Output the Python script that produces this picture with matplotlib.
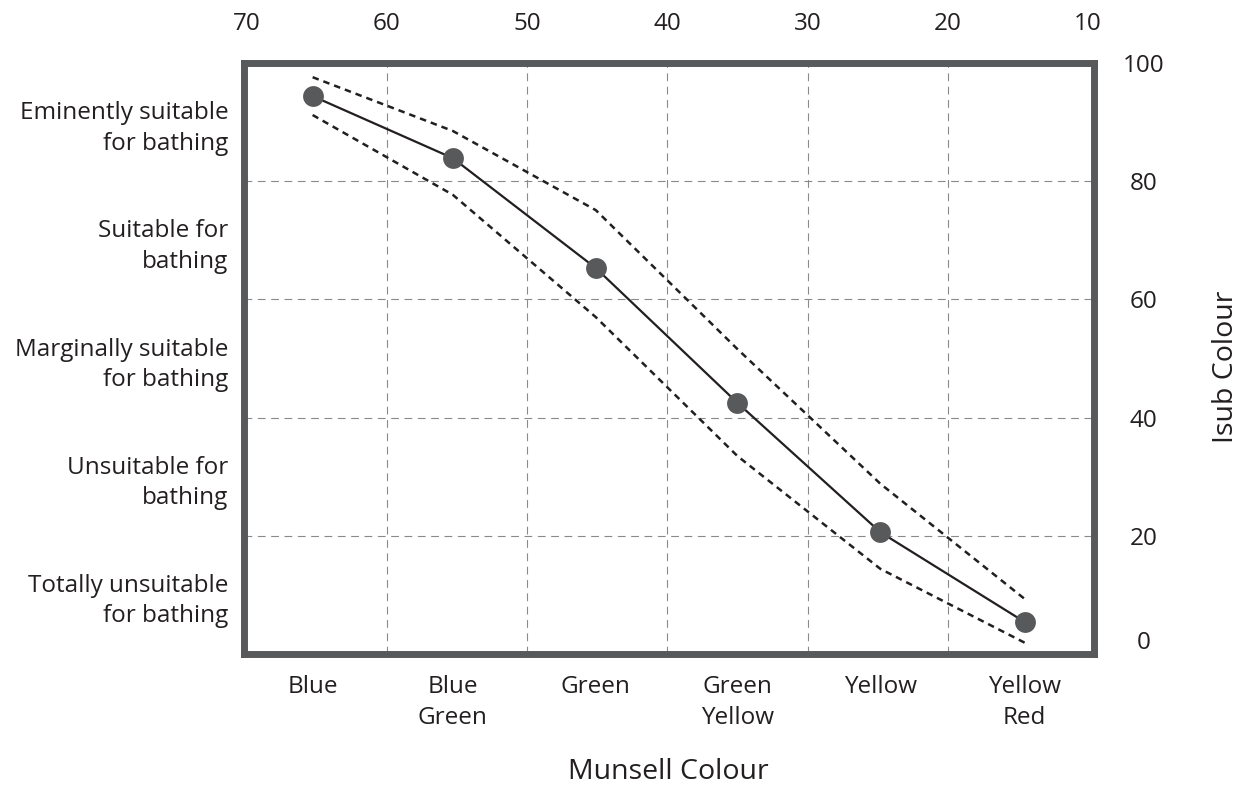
import matplotlib
matplotlib.use("Agg")
import matplotlib.pyplot as plt
from matplotlib.transforms import ScaledTranslation

plt.rcParams['font.family'] = ['Open Sans', 'DejaVu Sans']

# Munsell scale positions of each water colour and the Isub colour index
munsell = [65.3, 55.3, 45.1, 35.0, 24.8, 14.5]
isub = [94.4, 83.9, 65.3, 42.5, 20.6, 5.4]
isub_upper = [97.6, 88.5, 75.1, 51.6, 28.8, 9.3]
isub_lower = [91.2, 77.7, 57.0, 33.5, 14.4, 1.9]

colour_names = ["Blue", "Blue\nGreen", "Green", "Green\nYellow", "Yellow", "Yellow\nRed"]
colour_pos = [65.3, 55.3, 45.1, 35.0, 24.8, 14.5]

munsell_ticks = [70, 60, 50, 40, 30, 20, 10]
isub_ticks = [0, 20, 40, 60, 80, 100]

suitability = ["Eminently suitable\nfor bathing", "Suitable for\nbathing",
               "Marginally suitable\nfor bathing", "Unsuitable for\nbathing",
               "Totally unsuitable\nfor bathing"]
suitability_pos = [90, 70, 50, 30, 10]

v_grid = [60, 50, 40, 30, 20]
h_grid = [20, 40, 60, 80]

TEXT = "#231f20"
FRAME = "#58595b"
FS = 17.5
TITLE_FS = 20.5

fig = plt.figure(figsize=(12.47, 8.05), dpi=100)
ax = fig.add_axes([243.5 / 1247, 1 - 654 / 805, (1093.5 - 243.5) / 1247, (654 - 63) / 805])
ax.set_xlim(70.23, 9.6)
ax.set_ylim(0, 100)

for x in v_grid:
    ax.axvline(x, color="#8a8a8a", lw=0.8, dashes=(7, 5), zorder=1)
for y in h_grid:
    ax.axhline(y, color="#8a8a8a", lw=0.8, dashes=(7, 5), zorder=1)

ax.plot(munsell, isub_upper, color=TEXT, lw=1.8, dashes=(2.6, 2.0), zorder=2)
ax.plot(munsell, isub_lower, color=TEXT, lw=1.8, dashes=(2.6, 2.0), zorder=2)
ax.plot(munsell, isub, color=TEXT, lw=1.6, zorder=3)
ax.plot(munsell, isub, "o", color=FRAME, ms=15, mec="none", zorder=4)

for s in ax.spines.values():
    s.set_linewidth(5)
    s.set_color(FRAME)
    s.set_capstyle("projecting")

# Munsell numbers on top
ax.xaxis.tick_top()
ax.set_xticks(munsell_ticks)
ax.set_xticklabels([str(t) for t in munsell_ticks])
ax.tick_params(axis="x", length=0, pad=19.5, labelsize=FS, labelcolor=TEXT)

# Isub numbers on the right
ax.yaxis.tick_right()
ax.set_yticks(isub_ticks)
ax.set_yticklabels([str(t) for t in isub_ticks])
ax.tick_params(axis="y", length=0, pad=36, labelsize=FS, labelcolor=TEXT)
for lab in ax.get_yticklabels():
    lab.set_horizontalalignment("center")
zero = ax.get_yticklabels()[0]
zero.set_transform(zero.get_transform() + ScaledTranslation(0, 14 / 100, fig.dpi_scale_trans))
ax.yaxis.set_label_position("right")
ax.set_ylabel("Isub Colour", fontsize=TITLE_FS, color=TEXT, labelpad=34)
ax.yaxis.label.set_transform(ax.yaxis.label.get_transform()
                             + ScaledTranslation(0, -8 / 100, fig.dpi_scale_trans))

# Colour names below
bx = ax.secondary_xaxis("bottom")
bx.set_xticks(colour_pos, colour_names)
bx.tick_params(length=0, pad=15, labelsize=FS, labelcolor=TEXT)
for lab in bx.get_xticklabels():
    lab.set_linespacing(1.42)
bx.spines["bottom"].set_visible(False)
bx.set_xlabel("Munsell Colour", fontsize=TITLE_FS, color=TEXT, labelpad=20)

# Bathing suitability classes on the left
lx = ax.secondary_yaxis("left")
lx.set_yticks(suitability_pos, suitability)
lx.tick_params(length=0, pad=11, labelsize=FS, labelcolor=TEXT)
for lab in lx.get_yticklabels():
    lab.set_linespacing(1.36)
    lab.set_multialignment("right")
lx.spines["left"].set_visible(False)

fig.savefig("out.png", dpi=100, facecolor="white")
